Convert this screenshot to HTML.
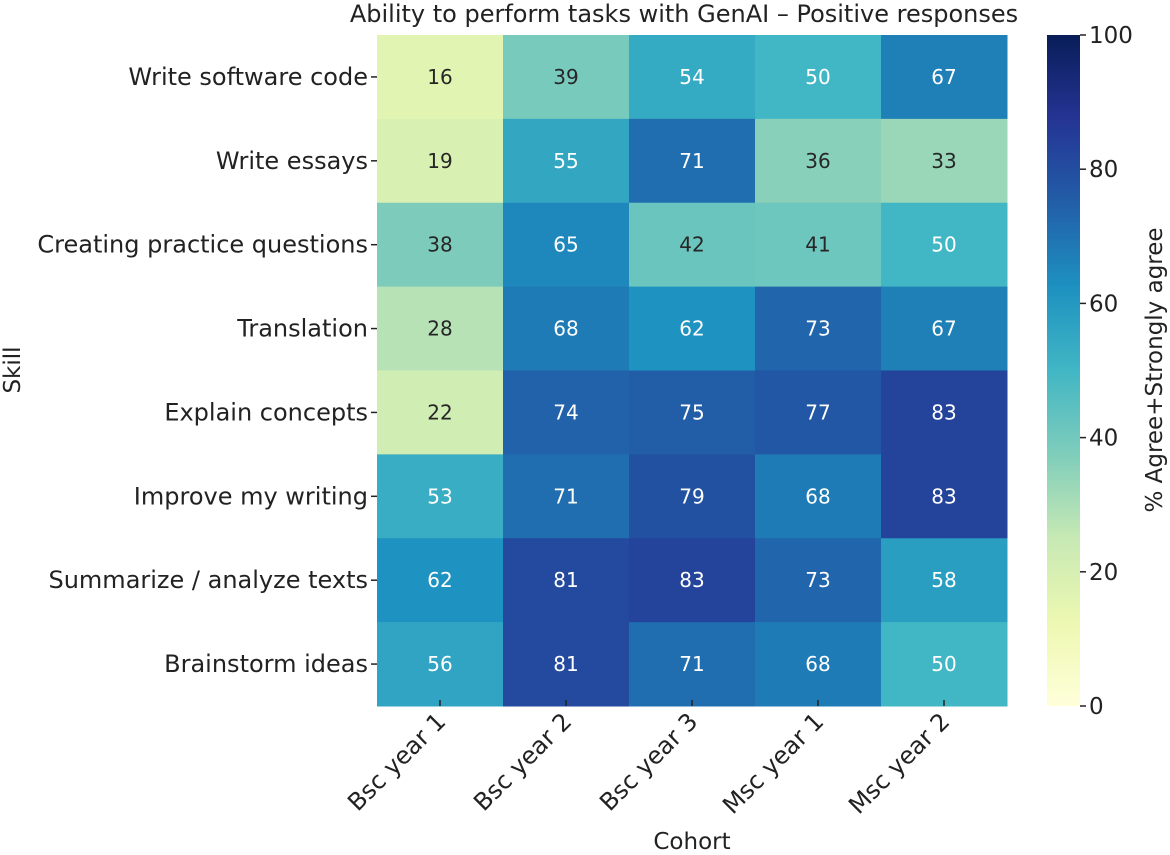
<!DOCTYPE html>
<html><head><meta charset="utf-8"><style>body{margin:0;background:#fff}svg{display:block;font-family:"DejaVu Sans","Liberation Sans",sans-serif}</style></head>
<body>
<svg id="chart" width="1170" height="855" viewBox="0 0 1170 855">
<text x="684" y="22" font-size="24" text-anchor="middle" fill="#222">Ability to perform tasks with GenAI – Positive responses</text>
<text transform="translate(20,370) rotate(-90)" font-size="23" text-anchor="middle" fill="#222">Skill</text>
<text x="692" y="849" font-size="23" text-anchor="middle" fill="#222">Cohort</text>
<text transform="translate(1162,370) rotate(-90)" font-size="23" text-anchor="middle" fill="#222">% Agree+Strongly agree</text>
<defs><linearGradient id="cbg" x1="0" y1="1" x2="0" y2="0"></linearGradient></defs>
<g id="cells"></g><g id="cb"></g>
</svg>
<script>
const cohorts=["Bsc year 1","Bsc year 2","Bsc year 3","Msc year 1","Msc year 2"];
const skills=["Write software code","Write essays","Creating practice questions","Translation","Explain concepts","Improve my writing","Summarize / analyze texts","Brainstorm ideas"];
const row0=[16,39,54,50,67];
const row1=[19,55,71,36,33];
const row2=[38,65,42,41,50];
const row3=[28,68,62,73,67];
const row4=[22,74,75,77,83];
const row5=[53,71,79,68,83];
const row6=[62,81,83,73,58];
const row7=[56,81,71,68,50];
const values=[row0,row1,row2,row3,row4,row5,row6,row7];
const cbTicks=[0,20,40,60,80,100];
const NS="http://www.w3.org/2000/svg";
const L=377,T=35,W=630,H=671,cw=W/cohorts.length,rh=H/skills.length;
const stops=["#ffffd9","#edf8b1","#c7e9b4","#7fcdbb","#41b6c4","#1d91c0","#225ea8","#253494","#081d58"];
function hx(h){return [1,3,5].map(i=>parseInt(h.substr(i,2),16));}
function cmap(v){let t=Math.max(0,Math.min(1,v/100))*(stops.length-1);let i=Math.min(stops.length-2,Math.floor(t)),f=t-i;const a=hx(stops[i]),b=hx(stops[i+1]);return a.map((x,k)=>Math.round(x+(b[k]-x)*f));}
function lum(c){const l=c.map(x=>{x/=255;return x<=0.03928?x/12.92:Math.pow((x+0.055)/1.055,2.4)});return .2126*l[0]+.7152*l[1]+.0722*l[2];}
function xS(i){return L+i*cw;}function yS(j){return T+j*rh;}
function cbY(v){return T+H-(v/100)*H;}
function mk(t,a,p){const e=document.createElementNS(NS,t);for(const k in a)e.setAttribute(k,a[k]);(p||document.getElementById('chart')).appendChild(e);return e;}
const g=document.getElementById('cells');
values.forEach((r,j)=>r.forEach((v,i)=>{const c=cmap(v);
 const rc=mk('rect',{x:xS(i),y:yS(j),width:cw+0.5,height:rh+0.5,fill:`rgb(${c})`},g);
 
 
 const tx=mk('text',{x:xS(i)+cw/2,y:yS(j)+rh/2+7,'font-size':20,'text-anchor':'middle',fill:lum(c)>0.408?'#262626':'#ffffff'},g);tx.textContent=v;
 
 
}));
skills.forEach((s,j)=>{const y=yS(j)+rh/2;mk('line',{x1:L-6,x2:L,y1:y,y2:y,stroke:'#222','stroke-width':1.5});
 const t=mk('text',{x:L-9,y:y+8,'font-size':24,'text-anchor':'end',fill:'#222'});t.textContent=s;
 
 });
cohorts.forEach((c,i)=>{const x=xS(i)+cw/2;mk('line',{x1:x,x2:x,y1:T+H-6,y2:T+H,stroke:'#222','stroke-width':1.5});
 const t=mk('text',{transform:`translate(${x+7},${T+H+17}) rotate(-45)`,'font-size':24,'text-anchor':'end',fill:'#222'});t.textContent=c;
 
 });
const gr=document.getElementById('cbg');
stops.forEach((s,k)=>mk('stop',{offset:k/(stops.length-1),'stop-color':s},gr));
const cb=mk('rect',{x:1047,y:T,width:33,height:H,fill:'url(#cbg)'});


cbTicks.forEach(v=>{const y=cbY(v);mk('line',{x1:1080,x2:1086,y1:y,y2:y,stroke:'#222','stroke-width':1.5});
 const t=mk('text',{x:1089,y:y+8,'font-size':23,fill:'#222'});t.textContent=v;
 
 });
</script>
</body></html>
